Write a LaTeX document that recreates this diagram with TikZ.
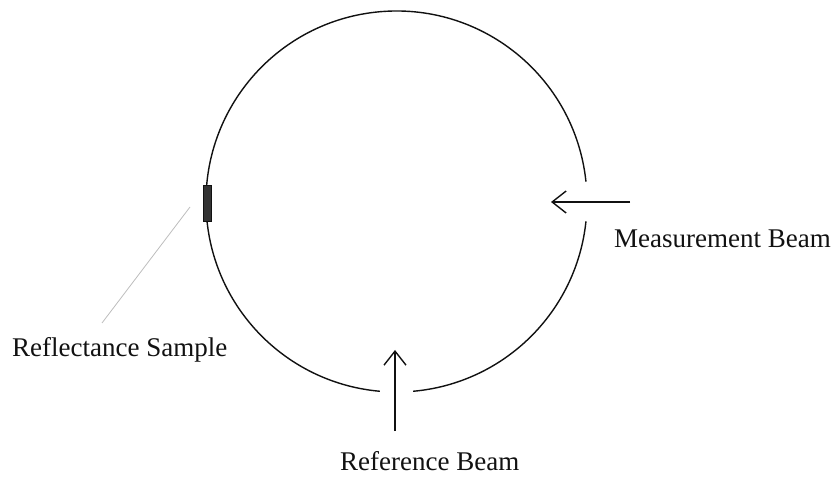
\documentclass[tikz,border=0pt]{standalone}
\usepackage{xcolor}
\usepackage{fontspec}
\setmainfont{Liberation Serif}
\usepackage{tikz}
\usetikzlibrary{positioning, arrows.meta}
\definecolor{sInk}{HTML}{111111}
\definecolor{sSample}{HTML}{333333}
\definecolor{sLeader}{HTML}{BDBDBD}
\tikzset{
  sphere/.style={draw=sInk, line width=1.4pt},
  beam/.style={draw=sInk, line width=1.4pt,
    -{Straight Barb[length=14pt, width=22pt, line width=1.4pt]}},
  samplebox/.style={draw=sInk, fill=sSample, minimum width=8pt, minimum height=36pt,
    inner sep=0pt, line width=0.6pt},
  leader/.style={draw=sLeader, line width=0.8pt},
  caption/.style={font=\fontsize{27}{31}\selectfont, text=sInk, inner sep=0pt, anchor=base west},
}
\begin{document}
\begin{tikzpicture}[x=1pt, y=1pt]
  \useasboundingbox (0,0) rectangle (833,477);
  \coordinate (ctr) at (396.5,275.5);
  % sphere wall with two ports
  \draw[sphere] (ctr) ++(6:190.5pt) arc[start angle=6, end angle=265, radius=190.5pt];
  \draw[sphere] (ctr) ++(275:190.5pt) arc[start angle=275, end angle=354, radius=190.5pt];
  \node[samplebox] (sample) at (207.5,274) {};
  % beams
  \coordinate (measTail) at (630,275);
  \coordinate (measTip) at (551,275);
  \coordinate (refTail) at (395,46);
  \coordinate (refTip) at (395,127);
  \draw[beam] (measTail) -- (measTip);
  \draw[beam] (refTail) -- (refTip);
  % labels
  \node[caption] (sampleLbl) at (12,121) {Reflectance Sample};
  \node[caption] (measLbl) at (614,229) {Measurement Beam};
  \node[caption] (refLbl) at (340,7) {Reference Beam};
  \coordinate (leadA) at (190,270);
  \coordinate (leadB) at (102,154);
  \draw[leader] (leadA) -- (leadB);
\end{tikzpicture}
\end{document}
